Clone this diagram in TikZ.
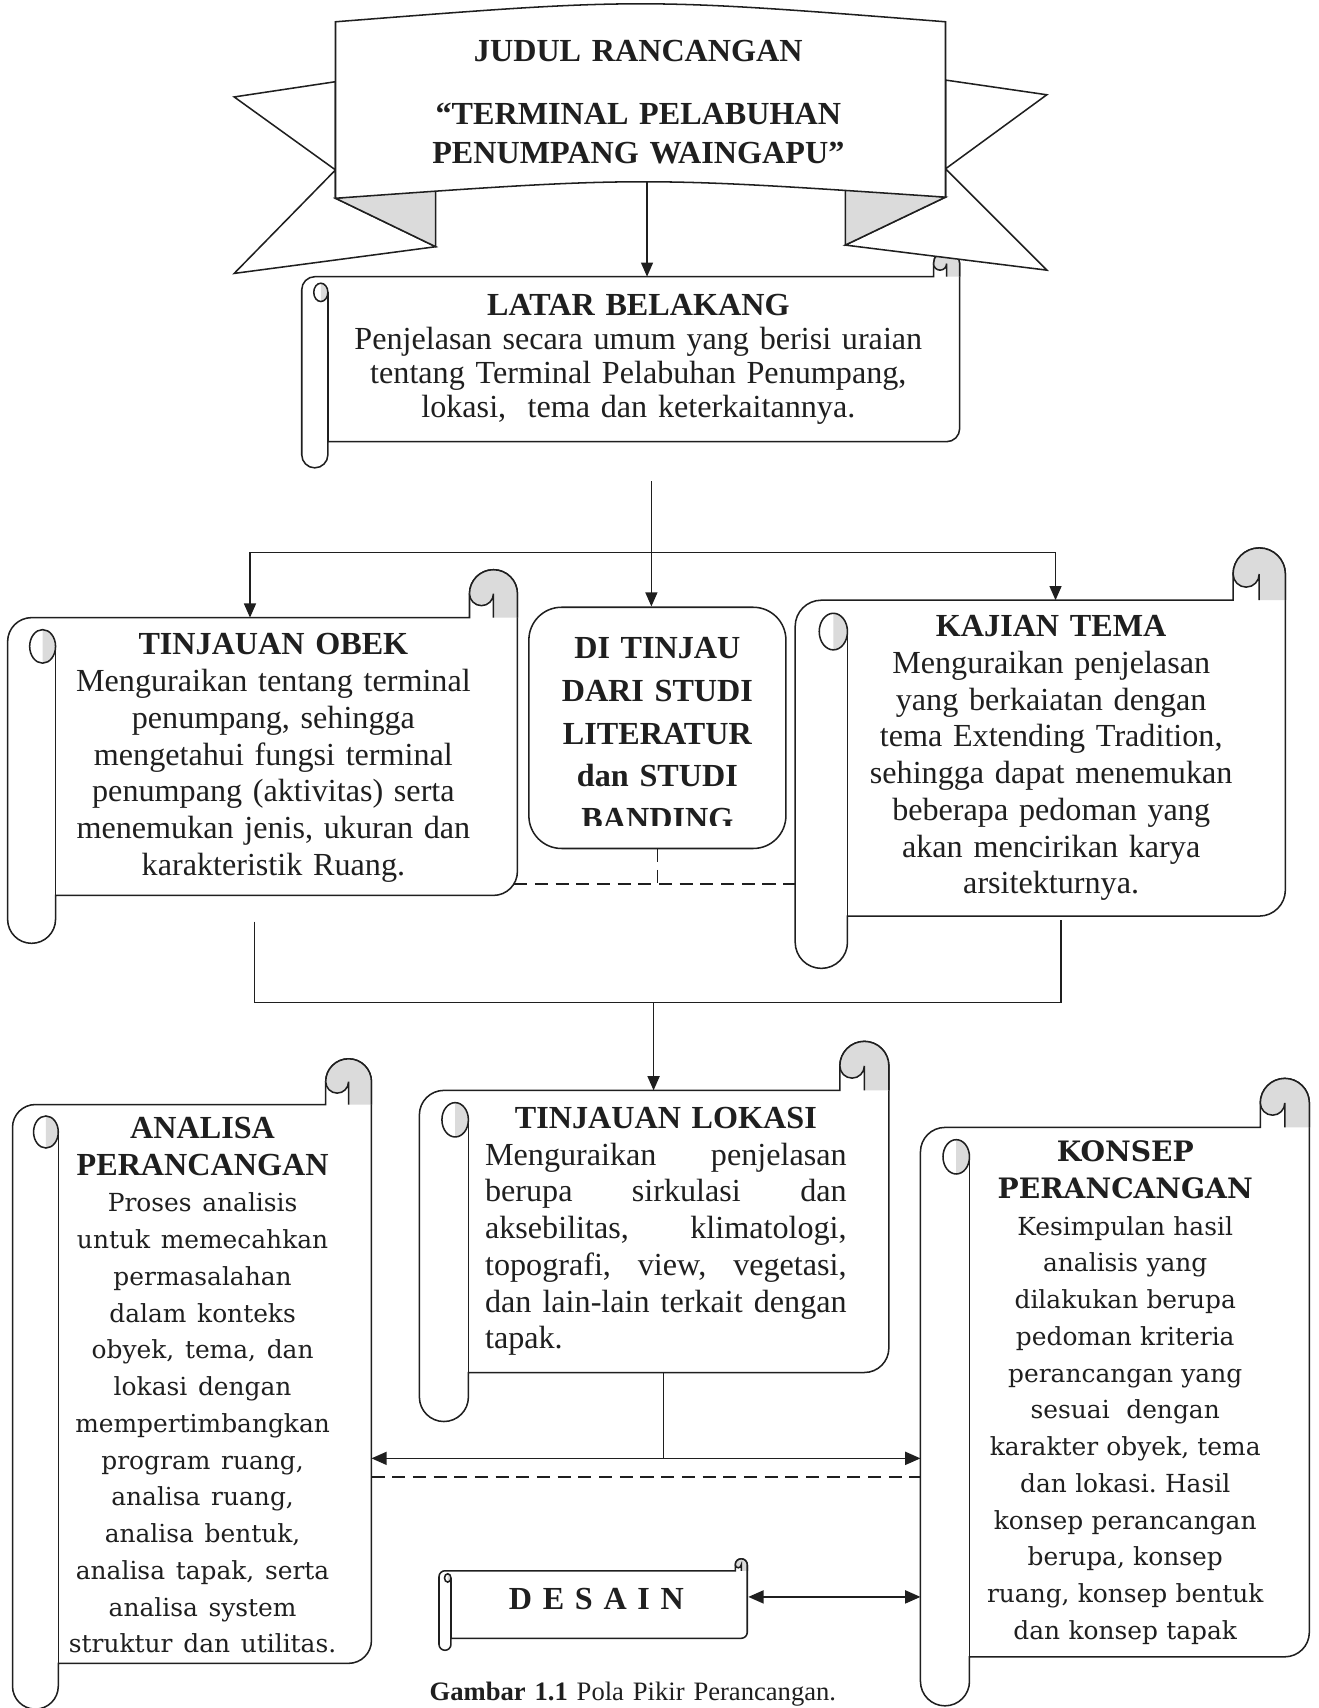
\documentclass[tikz,border=0pt]{standalone}
\usepackage{fontspec}
\usepackage{tikz}
\usetikzlibrary{arrows.meta}
\newfontfamily\timesfont{Liberation Serif}
\newfontfamily\wideserif{DejaVu Serif}
\definecolor{ink}{gray}{0.12}
\definecolor{curlgray}{gray}{0.86}
\newcommand\widesize{\wideserif\fontsize{13}{19.2}\selectfont}
\tikzset{
  scrollline/.style={line width=0.8pt,draw=ink},
  link/.style={line width=0.8pt,draw=ink},
  arr/.style={link,-{Triangle[length=0.26cm,width=0.22cm]}},
  twoarr/.style={link,{Triangle[length=0.28cm,width=0.24cm]}-{Triangle[length=0.28cm,width=0.24cm]}},
  dashline/.style={line width=0.9pt,draw=ink,dash pattern=on 0.24cm off 0.14cm},
  boxtext/.style={inner sep=0pt,anchor=base,align=center,text width=#1,text=ink,
    font=\timesfont\fontsize{16.8}{19.2}\selectfont},
  boxtext/.default=9cm,
  studibox/.style={scrollline,fill=white,rounded corners=0.6cm,inner sep=0pt,
    minimum width=4.72cm,minimum height=4.43cm}
}
% scroll: (left,top,right,bottom of the paper)(roll size)
\def\hscroll(#1,#2,#3,#4)(#5){%
  \filldraw[scrollline,fill=white] (#1,{#2+#5/2}) arc[start angle=180,end angle=270,radius={#5/2}]
    -- ({#3-#5},#2) -- ({#3-#5},{#2-#5/2}) arc[start angle=180,end angle=360,radius={#5/2}]
    -- (#3,{#4-#5/2}) arc[start angle=0,end angle=90,radius={#5/2}]
    -- ({#1+#5},#4) -- ({#1+#5},{#4+#5/2}) arc[start angle=0,end angle=180,radius={#5/2}] -- cycle;
  \fill[curlgray] ({#3-#5/2},#2) -- ({#3-#5/2},{#2-#5/2}) arc[start angle=0,end angle=180,radius={#5/4}]
    arc[start angle=180,end angle=360,radius={#5/2}] -- (#3,#2) -- cycle;
  \fill[curlgray] ({#1+0.73*#5},{#2+0.25*#5}) arc[start angle=270,end angle=450,x radius={0.27*#5},y radius={0.35*#5}] -- cycle;
  \draw[scrollline] ({#3-#5},{#2-#5/2}) arc[start angle=180,end angle=360,radius={#5/2}] -- (#3,#2);
  \draw[scrollline] ({#3-#5/2},#2) -- ({#3-#5/2},{#2-#5/2}) arc[start angle=0,end angle=180,radius={#5/4}];
  \draw[scrollline] ({#1+0.73*#5},{#2+0.6*#5}) ellipse[x radius={0.27*#5},y radius={0.35*#5}];
  \draw[scrollline] ({#1+#5},#4) -- ({#1+#5},{#2+0.6*#5});
}

\begin{document}
\begin{tikzpicture}[x=0.02cm,y=-0.02cm]
  \useasboundingbox (0,0) rectangle (1210,1568);
  %%%%% START %%%%%
  \hscroll(277,254,881,405.5)(24);
  \coordinate (latar-in) at (594,254);
  \coordinate (latar-out) at (598,442);

  %%%%% banner %%%%%
  \filldraw[scrollline,fill=white] (308,75) -- (215,89) -- (308,156) -- (215,251) -- (400,226.5) -- (308,182) -- cycle;
  \filldraw[scrollline,fill=white] (868,73.5) -- (961,87) -- (868,155) -- (961,248) -- (776,225) -- (868,181) -- cycle;
  \filldraw[scrollline,fill=curlgray] (308,182) -- (400,226.5) -- (400,172) -- cycle;
  \filldraw[scrollline,fill=curlgray] (868,181) -- (776,225) -- (776,172) -- cycle;
  \filldraw[scrollline,fill=white] (308,20) .. controls (588,-2) .. (868,20) -- (868,181) .. controls (588,162) .. (308,182) -- cycle;
  \coordinate (banner-foot) at (594,167);

  %%%%% second row %%%%%
  \hscroll(7,567,475,822)(44);
  \coordinate (obek-in) at (229.5,567);
  \coordinate (obek-dash) at (472,811.6);
  \coordinate (obek-out) at (233.6,846);
  \hscroll(730,551,1180,841)(48);
  \coordinate (kajian-in) at (969,551);
  \coordinate (kajian-dash) at (730,811.6);
  \coordinate (kajian-out) at (974,845);
  \node[studibox] (studi) at (603.5,668.2) {};
  \coordinate (fork) at (598,507);
  \coordinate (join) at (600,920.5);

  %%%%% third row %%%%%
  \hscroll(385,1001,816,1260)(45);
  \coordinate (lokasi-in) at (600,1001);
  \coordinate (lokasi-out) at (609,1260);
  \hscroll(11.5,1014,341,1527)(42);
  \coordinate (analisa-in) at (341,1338.8);
  \coordinate (analisa-dash) at (341,1355.6);
  \hscroll(845,1035,1202,1521)(45);
  \coordinate (konsep-in) at (845,1338.8);
  \coordinate (konsep-dash) at (845,1355.6);
  \coordinate (konsep-desain) at (845,1466);
  \hscroll(403,1442,686,1504)(11);
  \coordinate (desain-out) at (687,1466);

  %%%%% texts %%%%%
  \node[boxtext,font=\timesfont\bfseries\fontsize{16.8}{19.9}\selectfont] (judul) at (586,56.6)
    {JUDUL RANCANGAN\\[13.2pt]“TERMINAL PELABUHAN\\PENUMPANG WAINGAPU”};
  \node[boxtext=11cm,font=\timesfont\fontsize{16.8}{17.9}\selectfont] (latar) at (586,289.2)
    {\textbf{LATAR BELAKANG}\\Penjelasan secara umum yang berisi uraian\\tentang Terminal Pelabuhan Penumpang,\\lokasi,\ \ tema dan keterkaitannya.};
  \node[boxtext] (obek) at (251,601.3)
    {\textbf{TINJAUAN OBEK}\\Menguraikan tentang terminal\\penumpang, sehingga\\mengetahui fungsi terminal\\penumpang (aktivitas) serta\\menemukan jenis, ukuran dan\\karakteristik Ruang.};
  \node[boxtext] (kajian) at (965,584.5)
    {\textbf{KAJIAN TEMA}\\Menguraikan penjelasan\\yang berkaiatan dengan\\tema Extending Tradition,\\sehingga dapat menemukan\\beberapa pedoman yang\\akan mencirikan karya\\arsitekturnya.};
  \begin{scope}
    \clip (485,557) rectangle (722,757.4);
    \node[boxtext=4.6cm,font=\timesfont\bfseries\fontsize{16.8}{22.4}\selectfont] (studi-text) at (603.5,604.4)
      {DI TINJAU\\DARI STUDI\\LITERATUR\\dan STUDI\\BANDING};
  \end{scope}
  \node[boxtext=6.64cm] (lokasi) at (611.3,1035.8)
    {\textbf{TINJAUAN LOKASI}\\
     \makebox[\linewidth][s]{Menguraikan\hfill penjelasan}\\
     \makebox[\linewidth][s]{berupa\hfill sirkulasi\hfill dan}\\
     \makebox[\linewidth][s]{aksebilitas,\hfill klimatologi,}\\
     \makebox[\linewidth][s]{topografi,\hfill view,\hfill vegetasi,}\\
     \makebox[\linewidth][s]{dan\hfill lain-lain\hfill terkait\hfill dengan}\\
     \makebox[\linewidth][l]{tapak.}};
  \node[boxtext=7cm] (analisa) at (186,1045)
    {{\bfseries ANALISA\\PERANCANGAN}\\\widesize Proses analisis\\untuk memecahkan\\permasalahan\\dalam konteks\\obyek, tema, dan\\lokasi dengan\\mempertimbangkan\\program ruang,\\analisa ruang,\\analisa bentuk,\\analisa tapak, serta\\analisa system\\struktur dan utilitas.};
  \node[boxtext=7cm,font=\widesize] (konsep) at (1033,1066.5)
    {{\bfseries\fontsize{14.7}{19.2}\selectfont KONSEP\\PERANCANGAN}\\Kesimpulan hasil\\analisis yang\\dilakukan berupa\\pedoman kriteria\\perancangan yang\\sesuai\ \ dengan\\karakter obyek, tema\\dan lokasi.\ Hasil\\konsep perancangan\\berupa, konsep\\ruang, konsep bentuk\\dan konsep tapak};
  \node[boxtext,font=\timesfont\bfseries\fontsize{16.8}{19.2}\selectfont] (desain) at (547.5,1478) {D E S A I N};
  \node[boxtext,font=\timesfont\fontsize{13.9}{16}\selectfont] (caption) at (581,1561)
    {\textbf{Gambar 1.1} Pola Pikir Perancangan.};

  %%%%% connectors %%%%%
  \draw[arr] (banner-foot) -- (latar-in);
  \draw[arr] (latar-out) -- (latar-out |- studi.north);
  \draw[arr] (fork) -| (obek-in);
  \draw[arr] (fork) -| (kajian-in);
  \draw[dashline] (obek-dash) -- (kajian-dash);
  \draw[dashline] (studi.south) -- (studi.south |- obek-dash);
  \draw[link] (obek-out) |- (join);
  \draw[link] (kajian-out) |- (join);
  \draw[arr] (join) -- (lokasi-in);
  \draw[link] (lokasi-out) -- (lokasi-out |- analisa-in);
  \draw[twoarr] (analisa-in) -- (konsep-in);
  \draw[dashline] (analisa-dash) -- (konsep-dash);
  \draw[twoarr] (desain-out) -- (konsep-desain);
  %%%%% END %%%%%
\end{tikzpicture}
\end{document}
